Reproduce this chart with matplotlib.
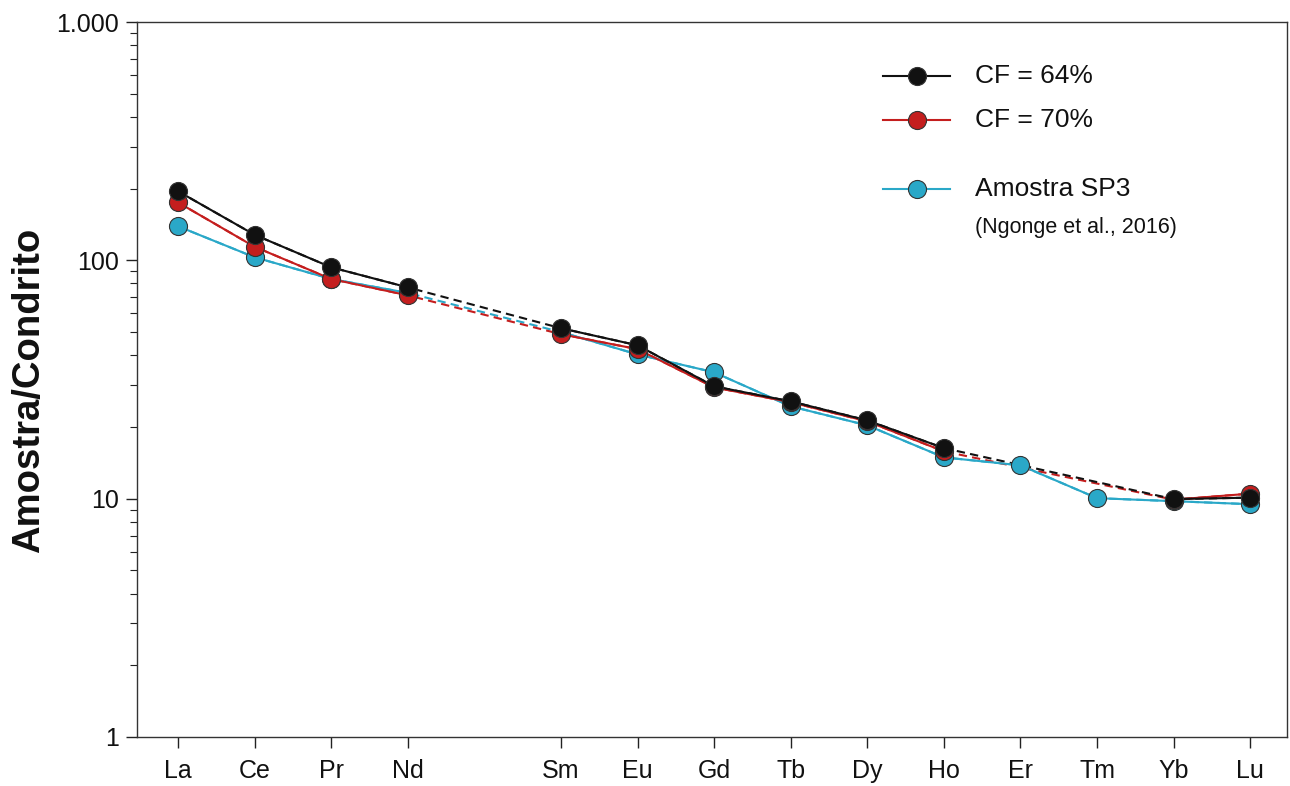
import numpy as np
import matplotlib
matplotlib.use("Agg")
import matplotlib.pyplot as plt
from matplotlib.ticker import LogLocator, FixedFormatter, FixedLocator, NullFormatter

plt.rcParams['font.family'] = ['Liberation Sans', 'DejaVu Sans']

# Data
elements = ['La', 'Ce', 'Pr', 'Nd', 'Pm', 'Sm', 'Eu', 'Gd', 'Tb', 'Dy', 'Ho', 'Er', 'Tm', 'Yb', 'Lu']
nan = np.nan
cf64 = [195, 128, 93.5, 77, nan, 51.9, 44, 29.6, 25.6, 21.3, 16.3, nan, nan, 9.96, 10.1]
cf70 = [175, 114, 83.5, 71.3, nan, 49.0, 42.4, 29.3, 25.4, 21.1, 15.8, nan, nan, 9.9, 10.5]
sp3 = [139, 103, 83.5, 73, nan, 50.0, 40.3, 33.9, 24.4, 20.3, 14.9, 13.8, 10.05, 9.76, 9.48]

series = [
    ('Amostra SP3', sp3, '#2aa8c8'),
    ('CF = 70%', cf70, '#c41e1e'),
    ('CF = 64%', cf64, '#111111'),
]

W, H = 1290, 786
fig = plt.figure(figsize=(W / 100, H / 100), dpi=100)
ax = fig.add_axes([137 / W, 1 - 737 / H, 1150 / W, 715 / H])

x = np.arange(len(elements))
for i, (name, vals, col) in enumerate(series):
    y = np.array(vals, dtype=float)
    ok = ~np.isnan(y)
    # dashed connections over gaps
    ax.plot(x[ok], y[ok], color=col, lw=1.5, ls=(0, (4, 2.5)), zorder=1 + i)
    # solid segments
    ax.plot(x, y, color=col, lw=1.5, zorder=4 + i)
    ax.plot(x[ok], y[ok], ls='none', marker='o', ms=13, mfc=col, mec='#333333',
            mew=0.8, zorder=10 + i)

ax.set_yscale('log')
ax.set_ylim(1, 1000)
ax.set_xlim(-0.535, 14.48)

ax.yaxis.set_major_locator(FixedLocator([1, 10, 100, 1000]))
ax.yaxis.set_major_formatter(FixedFormatter(['1', '10', '100', '1.000']))
ax.yaxis.set_minor_locator(LogLocator(base=10, subs=np.arange(2, 10)))
ax.yaxis.set_minor_formatter(NullFormatter())

tick_idx = [i for i, e in enumerate(elements) if e != 'Pm']
ax.set_xticks(tick_idx)
ax.set_xticklabels([elements[i] for i in tick_idx])
ax.xaxis.set_minor_locator(FixedLocator([]))

ax.tick_params(axis='both', which='major', direction='out', length=8, width=1,
               labelsize=18, color='#222222', labelcolor='#111111')
ax.tick_params(axis='y', which='minor', direction='out', length=5, width=0.8, color='#222222')
ax.tick_params(axis='x', which='major', pad=8)
ax.tick_params(axis='y', which='major', pad=5)

for s in ax.spines.values():
    s.set_linewidth(1.0)
    s.set_color('#333333')

ax.set_ylabel('Amostra/Condrito', fontsize=27.5, fontweight='bold', color='#111111')
ax.yaxis.set_label_coords(-0.0783, 0.485)

# Legend drawn manually in axes coordinates
leg_rows = [('CF = 64%', '#111111', 0.9245), ('CF = 70%', '#c41e1e', 0.863),
            ('Amostra SP3', '#2aa8c8', 0.7664)]
for label, col, yy in leg_rows:
    ax.plot([0.6487, 0.678, 0.707], [yy, yy, yy], color=col, lw=1.5, marker='o',
            markevery=[1], ms=13, mfc=col, mec='#333333', mew=0.8,
            transform=ax.transAxes, clip_on=False, zorder=20)
    ax.text(0.7287, yy, label, transform=ax.transAxes, fontsize=19, va='center',
            ha='left', color='#111111')
ax.text(0.7287, 0.712, '(Ngonge et al., 2016)', transform=ax.transAxes, fontsize=15.5,
        va='center', ha='left', color='#111111')

fig.savefig('out.png', dpi=100)
